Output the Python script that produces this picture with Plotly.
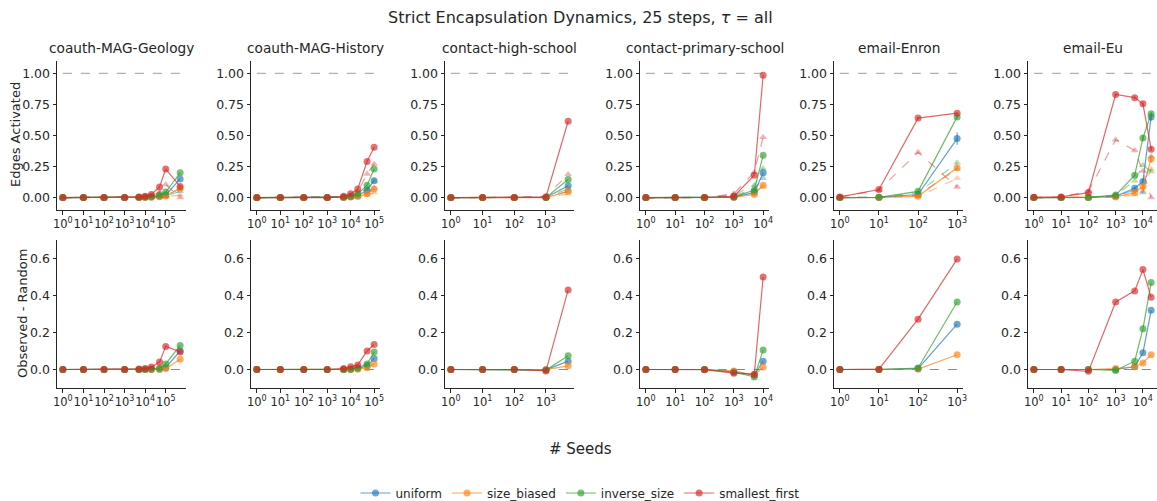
import plotly.graph_objects as go
import math

W, H = 1157, 501

datasets = ["coauth-MAG-Geology", "coauth-MAG-History", "contact-high-school",
            "contact-primary-school", "email-Enron", "email-Eu"]
strategies = ["uniform", "size_biased", "inverse_size", "smallest_first"]
colors = ["31,119,180", "255,127,14", "44,160,44", "214,39,40"]

# seeds per dataset
seeds_geology = [1, 10, 100, 1000, 5000, 10000, 20000, 50000, 100000, 500000]
seeds_history = [1, 10, 100, 1000, 5000, 10000, 20000, 50000, 100000]
seeds_highschool = [1, 10, 100, 1000, 5000]
seeds_primary = [1, 10, 100, 1000, 5000, 10000]
seeds_enron = [1, 10, 100, 1000]
seeds_eu = [1, 10, 100, 1000, 5000, 10000, 20000]

# x tick exponents per dataset
xt_geology = [0, 1, 2, 3, 4, 5]
xt_history = [0, 1, 2, 3, 4, 5]
xt_highschool = [0, 1, 2, 3]
xt_primary = [0, 1, 2, 3, 4]
xt_enron = [0, 1, 2, 3]
xt_eu = [0, 1, 2, 3, 4]

# observed fraction of edges activated
obs_geology = {
    "uniform":        [0, 0, 0, 0, 0.001, 0.002, 0.005, 0.010, 0.020, 0.150],
    "size_biased":    [0, 0, 0, 0, 0.001, 0.001, 0.003, 0.006, 0.012, 0.075],
    "inverse_size":   [0, 0, 0, 0, 0.002, 0.004, 0.008, 0.020, 0.045, 0.200],
    "smallest_first": [0, 0, 0, 0, 0.005, 0.010, 0.025, 0.085, 0.230, 0.090],
}
rnd_geology = {
    "uniform":        [0, 0, 0, 0, 0.001, 0.002, 0.004, 0.008, 0.012, 0.050],
    "size_biased":    [0, 0, 0, 0, 0.001, 0.001, 0.002, 0.004, 0.007, 0.020],
    "inverse_size":   [0, 0, 0, 0, 0.002, 0.003, 0.006, 0.012, 0.018, 0.070],
    "smallest_first": [0, 0, 0, 0, 0.002, 0.005, 0.012, 0.045, 0.105, 0.000],
}
diff_geology = {
    "uniform":        [0, 0, 0, 0, 0, 0, 0.001, 0.002, 0.010, 0.100],
    "size_biased":    [0, 0, 0, 0, 0, 0, 0.001, 0.002, 0.005, 0.055],
    "inverse_size":   [0, 0, 0, 0, 0, 0.001, 0.002, 0.008, 0.030, 0.130],
    "smallest_first": [0, 0, 0, 0, 0.003, 0.005, 0.013, 0.040, 0.125, 0.095],
}

obs_history = {
    "uniform":        [0, 0, 0, 0, 0.002, 0.006, 0.015, 0.060, 0.135],
    "size_biased":    [0, 0, 0, 0, 0.001, 0.004, 0.008, 0.030, 0.070],
    "inverse_size":   [0, 0, 0, 0, 0.003, 0.010, 0.030, 0.100, 0.230],
    "smallest_first": [0, 0, 0, 0, 0.010, 0.030, 0.070, 0.290, 0.405],
}
rnd_history = {
    "uniform":        [0, 0, 0, 0, 0.002, 0.005, 0.010, 0.040, 0.075],
    "size_biased":    [0, 0, 0, 0, 0.001, 0.003, 0.006, 0.020, 0.040],
    "inverse_size":   [0, 0, 0, 0, 0.003, 0.008, 0.020, 0.070, 0.135],
    "smallest_first": [0, 0, 0, 0, 0.005, 0.015, 0.045, 0.190, 0.270],
}
diff_history = {
    "uniform":        [0, 0, 0, 0, 0, 0.001, 0.005, 0.020, 0.060],
    "size_biased":    [0, 0, 0, 0, 0, 0.001, 0.002, 0.010, 0.030],
    "inverse_size":   [0, 0, 0, 0, 0, 0.002, 0.010, 0.030, 0.095],
    "smallest_first": [0, 0, 0, 0, 0.005, 0.015, 0.025, 0.100, 0.135],
}

obs_highschool = {
    "uniform":        [0, 0, 0, 0.001, 0.095],
    "size_biased":    [0, 0, 0, 0.000, 0.050],
    "inverse_size":   [0, 0, 0, 0.001, 0.145],
    "smallest_first": [0, 0, 0, 0.005, 0.615],
}
rnd_highschool = {
    "uniform":        [0, 0, 0, 0.002, 0.050],
    "size_biased":    [0, 0, 0, 0.001, 0.030],
    "inverse_size":   [0, 0, 0, 0.003, 0.070],
    "smallest_first": [0, 0, 0, 0.012, 0.185],
}
diff_highschool = {
    "uniform":        [0, 0, 0, -0.002, 0.045],
    "size_biased":    [0, 0, 0, -0.001, 0.020],
    "inverse_size":   [0, 0, 0, -0.003, 0.075],
    "smallest_first": [0, 0, 0, -0.008, 0.430],
}

obs_primary = {
    "uniform":        [0, 0, 0, 0.003, 0.040, 0.200],
    "size_biased":    [0, 0, 0, 0.002, 0.025, 0.100],
    "inverse_size":   [0, 0, 0, 0.004, 0.060, 0.340],
    "smallest_first": [0, 0, 0.001, 0.010, 0.180, 0.985],
}
rnd_primary = {
    "uniform":        [0, 0, 0, 0.015, 0.070, 0.155],
    "size_biased":    [0, 0, 0, 0.010, 0.055, 0.087],
    "inverse_size":   [0, 0, 0, 0.020, 0.100, 0.235],
    "smallest_first": [0, 0, 0.002, 0.030, 0.205, 0.485],
}
diff_primary = {
    "uniform":        [0, 0, 0, -0.012, -0.030, 0.045],
    "size_biased":    [0, 0, 0, -0.008, -0.030, 0.013],
    "inverse_size":   [0, 0, 0, -0.015, -0.040, 0.105],
    "smallest_first": [0, 0, -0.001, -0.020, -0.025, 0.500],
}

obs_enron = {
    "uniform":        [0, 0.002, 0.025, 0.475],
    "size_biased":    [0, 0.001, 0.010, 0.240],
    "inverse_size":   [0, 0.002, 0.050, 0.650],
    "smallest_first": [0.005, 0.065, 0.640, 0.680],
}
rnd_enron = {
    "uniform":        [0, 0.002, 0.020, 0.230],
    "size_biased":    [0, 0.001, 0.008, 0.155],
    "inverse_size":   [0, 0.002, 0.040, 0.280],
    "smallest_first": [0.005, 0.060, 0.365, 0.085],
}
diff_enron = {
    "uniform":        [0, 0, 0.005, 0.245],
    "size_biased":    [0, 0, 0.002, 0.080],
    "inverse_size":   [0, 0, 0.008, 0.365],
    "smallest_first": [0, 0.002, 0.272, 0.597],
}
err_enron = {
    "uniform":        [0, 0, 0.004, 0.050],
    "size_biased":    [0, 0, 0.002, 0.020],
    "inverse_size":   [0, 0, 0.005, 0.015],
    "smallest_first": [0, 0.005, 0.010, 0.010],
}

obs_eu = {
    "uniform":        [0, 0, 0.001, 0.010, 0.075, 0.130, 0.650],
    "size_biased":    [0, 0, 0.001, 0.005, 0.040, 0.090, 0.310],
    "inverse_size":   [0, 0, 0.002, 0.020, 0.180, 0.480, 0.675],
    "smallest_first": [0.002, 0.005, 0.040, 0.830, 0.805, 0.755, 0.390],
}
rnd_eu = {
    "uniform":        [0, 0, 0.001, 0.010, 0.060, 0.040, 0.330],
    "size_biased":    [0, 0, 0.001, 0.002, 0.025, 0.055, 0.230],
    "inverse_size":   [0, 0, 0.002, 0.020, 0.135, 0.260, 0.210],
    "smallest_first": [0.002, 0.005, 0.050, 0.465, 0.380, 0.215, 0.000],
}
diff_eu = {
    "uniform":        [0, 0, 0, 0, 0.015, 0.090, 0.320],
    "size_biased":    [0, 0, 0, 0.005, 0.015, 0.035, 0.080],
    "inverse_size":   [0, 0, 0, -0.005, 0.045, 0.220, 0.470],
    "smallest_first": [0, 0, -0.010, 0.365, 0.425, 0.540, 0.390],
}
err_eu = {
    "uniform":        [0, 0, 0, 0, 0.01, 0.02, 0.030],
    "size_biased":    [0, 0, 0, 0, 0.01, 0.02, 0.030],
    "inverse_size":   [0, 0, 0, 0, 0.01, 0.02, 0.015],
    "smallest_first": [0, 0, 0, 0.01, 0.01, 0.01, 0.015],
}

panels = [
    (seeds_geology, xt_geology, obs_geology, rnd_geology, diff_geology, None),
    (seeds_history, xt_history, obs_history, rnd_history, diff_history, None),
    (seeds_highschool, xt_highschool, obs_highschool, rnd_highschool, diff_highschool, None),
    (seeds_primary, xt_primary, obs_primary, rnd_primary, diff_primary, None),
    (seeds_enron, xt_enron, obs_enron, rnd_enron, diff_enron, err_enron),
    (seeds_eu, xt_eu, obs_eu, rnd_eu, diff_eu, err_eu),
]

FONT = "DejaVu Sans"
TXT = "#262626"
col_left = [57, 251, 445, 640, 834, 1028]
col_w = 129
top_px = (61, 210)
bot_px = (240, 388)

fig = go.Figure()
layout = {}


def ydom(px):
    return [1 - px[1] / H, 1 - px[0] / H]


for c, (seeds, xt, obs, rnd, diff, err) in enumerate(panels):
    lmin, lmax = math.log10(seeds[0]), math.log10(seeds[-1])
    pad = 0.05 * (lmax - lmin)
    xr = [lmin - pad, lmax + pad]
    for r in range(2):
        idx = c + 1 + 6 * r
        xa = "x" if idx == 1 else f"x{idx}"
        ya = "y" if idx == 1 else f"y{idx}"
        xkey = "xaxis" if idx == 1 else f"xaxis{idx}"
        ykey = "yaxis" if idx == 1 else f"yaxis{idx}"
        layout[xkey] = dict(
            domain=[col_left[c] / W, min(1.0, (col_left[c] + col_w) / W)],
            anchor=ya, type="log", range=xr,
            tickvals=[10 ** k for k in xt],
            ticktext=[f"10<sup>{k}</sup>" for k in xt],
            tickangle=0,
            showline=True, linecolor=TXT, linewidth=1,
            ticks="outside", ticklen=3.5, tickcolor=TXT,
            showgrid=False, zeroline=False, automargin=False,
            tickfont=dict(family=FONT, size=11.5, color=TXT),
        )
        if r == 0:
            yr, tv, tt = [-0.1, 1.1], [0, 0.25, 0.5, 0.75, 1.0], ["0.00", "0.25", "0.50", "0.75", "1.00"]
            dom = ydom(top_px)
        else:
            yr, tv, tt = [-0.1, 0.7], [0, 0.2, 0.4, 0.6], ["0.0", "0.2", "0.4", "0.6"]
            dom = ydom(bot_px)
        layout[ykey] = dict(
            domain=dom, anchor=xa, range=yr, tickvals=tv, ticktext=tt,
            showline=True, linecolor=TXT, linewidth=1,
            ticks="outside", ticklen=3.5, tickcolor=TXT,
            showgrid=False, zeroline=False, automargin=False,
            tickfont=dict(family=FONT, size=12.5, color=TXT),
        )
        # reference line
        if r == 0:
            fig.add_trace(go.Scatter(x=[seeds[0], seeds[-1]], y=[1, 1], mode="lines",
                                     line=dict(color="rgba(150,150,150,0.75)", width=1.1, dash="dash"),
                                     xaxis=xa, yaxis=ya, showlegend=False, hoverinfo="skip"))
        else:
            fig.add_trace(go.Scatter(x=[seeds[0], seeds[-1]], y=[0, 0], mode="lines",
                                     line=dict(color="rgba(60,60,60,0.6)", width=1.1, dash="dash"),
                                     xaxis=xa, yaxis=ya, showlegend=False, hoverinfo="skip"))
        if r == 0:
            for s, col in zip(strategies, colors):
                fig.add_trace(go.Scatter(
                    x=seeds, y=rnd[s], mode="lines+markers",
                    line=dict(color=f"rgba({col},0.45)", width=1.2, dash="dash"),
                    marker=dict(symbol="triangle-up", size=7, color=f"rgba({col},0.35)", line=dict(width=0)),
                    xaxis=xa, yaxis=ya, showlegend=False, legendgroup=s))
        for s, col in zip(strategies, colors):
            vals = obs[s] if r == 0 else diff[s]
            ey = None
            if r == 0 and err is not None:
                ey = dict(type="data", array=err[s], visible=True, color=f"rgba({col},0.7)",
                          thickness=1.2, width=0)
            fig.add_trace(go.Scatter(
                x=seeds, y=vals, mode="lines+markers",
                line=dict(color=f"rgba({col},0.7)", width=1.2),
                marker=dict(symbol="circle", size=7, color=f"rgba({col},0.65)", line=dict(width=0)),
                error_y=ey,
                xaxis=xa, yaxis=ya, name=s, legendgroup=s,
                showlegend=(c == 0 and r == 0)))

annotations = []
for c, name in enumerate(datasets):
    annotations.append(dict(text=name, x=(col_left[c] + col_w / 2) / W, y=1 - 48 / H,
                            xref="paper", yref="paper", showarrow=False,
                            font=dict(family=FONT, size=13.7, color=TXT),
                            xanchor="center", yanchor="middle"))
annotations += [
    dict(text="Strict Encapsulation Dynamics, 25 steps, <i>τ</i> = all", x=580 / W, y=1 - 17 / H,
         xref="paper", yref="paper", showarrow=False, xanchor="center", yanchor="middle",
         font=dict(family=FONT, size=16, color=TXT)),
    dict(text="# Seeds", x=580 / W, y=1 - 449 / H, xref="paper", yref="paper", showarrow=False,
         xanchor="center", yanchor="middle", font=dict(family=FONT, size=15, color=TXT)),
    dict(text="Edges Activated", x=15 / W, y=1 - 135 / H, xref="paper", yref="paper", showarrow=False,
         textangle=-90, xanchor="center", yanchor="middle", font=dict(family=FONT, size=13, color=TXT)),
    dict(text="Observed - Random", x=22 / W, y=1 - 314 / H, xref="paper", yref="paper", showarrow=False,
         textangle=-90, xanchor="center", yanchor="middle", font=dict(family=FONT, size=13, color=TXT)),
]

fig.update_layout(
    width=W, height=H, margin=dict(l=0, r=0, t=0, b=0, autoexpand=False),
    paper_bgcolor="white", plot_bgcolor="white",
    font=dict(family=FONT, color=TXT),
    annotations=annotations,
    legend=dict(orientation="h", x=580 / W, xanchor="center", y=1 - 493 / H, yanchor="middle",
                font=dict(family=FONT, size=12, color=TXT), itemwidth=30,
                bgcolor="rgba(0,0,0,0)"),
    **layout,
)

fig.write_html("out.html")
